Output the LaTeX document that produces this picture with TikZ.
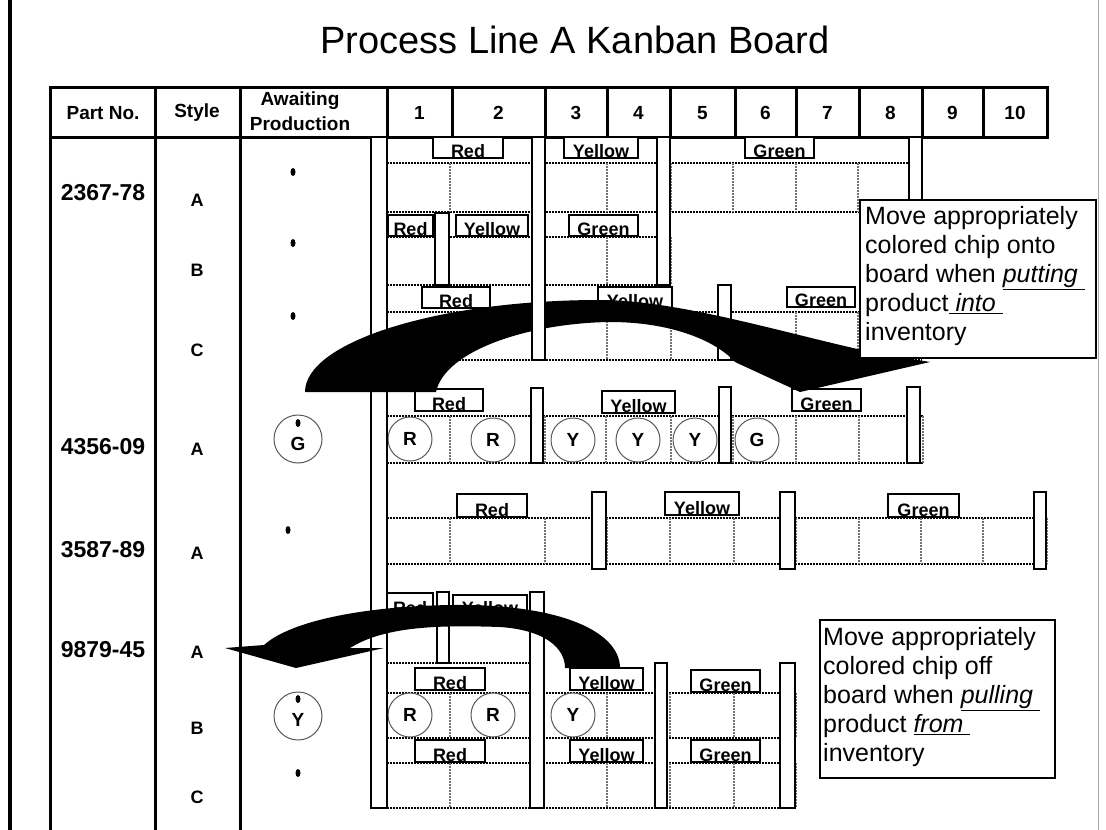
\documentclass[tikz,border=0pt]{standalone}
\usepackage{fontspec}
\setmainfont{Liberation Sans}
\tikzset{
  frameline/.style={line width=4pt},
  hline/.style={line width=3pt},
  hdr/.style={font=\fontsize{19}{25}\selectfont\bfseries, align=center, inner sep=0pt},
  partno/.style={font=\fontsize{23}{27}\selectfont\bfseries, inner sep=0pt},
  stylet/.style={font=\fontsize{18}{20}\selectfont\bfseries, inner sep=0pt},
  lbltext/.style={font=\fontsize{18}{20}\selectfont\bfseries, inner sep=0pt},
  lblbox/.style={draw=black, line width=1.5pt},
  barbox/.style={draw=black, fill=white, line width=1.5pt},
  hdot/.style={line width=2pt, dash pattern=on 1.6pt off 1.4pt},
  vdot/.style={line width=1.5pt, black!55, dash pattern=on 1.5pt off 1.5pt},
  chip/.style={circle, draw=black!65, line width=1pt, minimum size=44pt, inner sep=0pt, fill=white, font=\fontsize{19}{22}\selectfont\bfseries},
  calloutbox/.style={draw=black, fill=white, line width=1.5pt},
  callouttext/.style={font=\fontsize{25}{29}\selectfont, align=left, inner sep=0pt},
  bigarrow/.style={fill=black},
}
\newcommand\kblabel[6]{%
  \begin{scope}
    \clip (#2,#3) rectangle (#4,#5);
    \fill[white] (#2,#3) rectangle (#4,#5);
    \node[lbltext, anchor=base] (#1) at ({(#2+#4)/2},{#5-0.5}) {#6};
  \end{scope}
  \draw[lblbox] (#2,#3) rectangle (#4,#5);}
\begin{document}
\begin{tikzpicture}[x=1pt,y=-1pt]
\useasboundingbox (0,0) rectangle (1106,830);
\fill[white] (0,0) rectangle (1106,830);

% frame
\draw[frameline] (10,0) -- (10,830);
\draw[black!35, line width=1pt] (1098,0) -- (1098,830);

% title
\node[font=\fontsize{38}{44}\selectfont, inner sep=0pt] (title) at (575,40) {Process Line A Kanban Board};

% header
\draw[hline] (50,87) rectangle (1047,137);
\foreach \xx in {155,240,387,452,545,607,670,735,796,859,922,983}
  \draw[hline] (\xx,87) -- (\xx,137);
\node[hdr] (hpart) at (103,113) {Part No.};
\node[hdr] (hstyle) at (197,113) {Style};
\node[hdr] (hawait) at (300,111) {Awaiting\\Production};
\foreach \xx/\nn in {419.5/1,498.5/2,576/3,638.5/4,702.5/5,765.5/6,827.5/7,890.5/8,952.5/9,1015/10}
  \node[hdr] (h\nn) at (\xx,113) {\nn};

% body column lines
\foreach \xx in {50,155,240}
  \draw[hline] (\xx,137) -- (\xx,830);

% part numbers and styles
\node[partno] (p1) at (103,193) {2367-78};
\node[partno] (p2) at (103,447) {4356-09};
\node[partno] (p3) at (103,550) {3587-89};
\node[partno] (p4) at (103,650) {9879-45};
\node[stylet] (s1) at (197,200) {A};
\node[stylet] (s2) at (197,270) {B};
\node[stylet] (s3) at (197,350) {C};
\node[stylet] (s4) at (197,449) {A};
\node[stylet] (s5) at (197,553) {A};
\node[stylet] (s6) at (197,652) {A};
\node[stylet] (s7) at (197,728) {B};
\node[stylet] (s8) at (197,797) {C};

% awaiting production
\fill (293,172) ellipse (2.5 and 4);
\fill (293,243) ellipse (2.5 and 4);
\fill (293,316) ellipse (2.5 and 4);
\fill (288,530) ellipse (2.5 and 4);
\fill (298,773) ellipse (2.5 and 4);
\node[chip, minimum size=48pt] (wG) at (298,439) {};
\node[font=\fontsize{19}{22}\selectfont\bfseries, inner sep=0pt] (wGt) at (298,444) {G};
\fill (298,423) ellipse (2.5 and 4);
\node[chip, minimum size=48pt] (wY) at (298,716) {};
\node[font=\fontsize{19}{22}\selectfont\bfseries, inner sep=0pt] (wYt) at (298,720) {Y};
\fill (298,699) ellipse (2.5 and 4);

% ---------- row labels ----------
\kblabel{aR}{433}{137}{503}{158}{Red}
\kblabel{aY}{564}{137}{638}{158}{Yellow}
\kblabel{aG}{745}{137}{814}{158}{Green}
\kblabel{bR}{388}{215}{433}{236}{Red}
\kblabel{bY}{456}{215}{528}{236}{Yellow}
\kblabel{bG}{569}{215}{638}{236}{Green}
\kblabel{cR}{422}{287}{490}{308}{Red}
\kblabel{cY}{598}{287}{672}{308}{Yellow}
\kblabel{cG}{787}{287}{855}{307}{Green}
\kblabel{dR}{415}{389}{483}{411}{Red}
\kblabel{dY}{602}{391}{675}{413}{Yellow}
\kblabel{dG}{792}{389}{861}{411}{Green}
\kblabel{eR}{457}{494}{527}{517}{Red}
\kblabel{eY}{665}{492}{739}{515}{Yellow}
\kblabel{eG}{888}{494}{959}{517}{Green}
\kblabel{fR}{387}{593}{433}{615}{Red}
\kblabel{fY}{453}{595}{527}{615}{Yellow}
\kblabel{gR}{415}{668}{485}{690}{Red}
\kblabel{gY}{570}{668}{643}{690}{Yellow}
\kblabel{gG}{691}{670}{760}{692}{Green}
\kblabel{hR}{415}{740}{485}{762}{Red}
\kblabel{hY}{570}{740}{643}{762}{Yellow}
\kblabel{hG}{691}{740}{760}{762}{Green}

% ---------- dotted cells ----------
% 2367-78 A
\draw[hdot] (387,163) -- (909,163);
\draw[hdot] (387,212) -- (909,212);
\foreach \xx in {387,450,607,671,733,796,858,922}
  \draw[vdot] (\xx,163) -- (\xx,212);
% 2367-78 B
\draw[hdot] (387,237) -- (657,237);
\draw[hdot] (387,285) -- (657,285);
\foreach \xx in {387,607,671}
  \draw[vdot] (\xx,237) -- (\xx,285);
% 2367-78 C
\draw[hdot] (387,312) -- (909,312);
\draw[hdot] (387,360) -- (922,360);
\foreach \xx in {387,450,607,671,796,858}
  \draw[vdot] (\xx,312) -- (\xx,360);
% 4356-09 A
\draw[hdot] (387,416) -- (923,416);
\draw[hdot] (387,463) -- (923,463);
\foreach \xx in {387,450,545,606,671,733,796,859,923}
  \draw[vdot] (\xx,416) -- (\xx,463);
% 3587-89 A
\draw[hdot] (387,518) -- (1047,518);
\draw[hdot] (387,564) -- (1047,564);
\foreach \xx in {387,450,545,607,670,734,796,859,921,983,1047}
  \draw[vdot] (\xx,518) -- (\xx,564);
% 9879-45 A
\draw[hdot] (387,617) -- (531,617);
\draw[hdot] (387,663) -- (531,663);
\draw[vdot] (387,617) -- (387,663);
% 9879-45 B
\draw[hdot] (387,693) -- (796,693);
\draw[hdot] (387,738) -- (796,738);
\foreach \xx in {387,450,607,670,734,796}
  \draw[vdot] (\xx,693) -- (\xx,738);
% 9879-45 C
\draw[hdot] (387,763) -- (796,763);
\draw[hdot] (387,808) -- (796,808);
\foreach \xx in {387,450,607,670,734,796}
  \draw[vdot] (\xx,763) -- (\xx,808);

% ---------- chips ----------
\node[chip] (c1) at (410,439) {R};
\node[chip] (c2) at (493,440) {R};
\node[chip] (c3) at (573,440) {Y};
\node[chip] (c4) at (638,440) {Y};
\node[chip] (c5) at (695,440) {Y};
\node[chip] (c6) at (757,440) {G};
\node[chip] (c7) at (410,715) {R};
\node[chip] (c8) at (493,715) {R};
\node[chip] (c9) at (573,715) {Y};

% ---------- bars ----------
\draw[barbox] (371,137) rectangle (387,808);
\draw[barbox] (657,137) rectangle (670,285);
\draw[barbox] (909,137) rectangle (922,358);
\draw[barbox] (435,213) rectangle (449,285);
\draw[barbox] (718,285) rectangle (731,360);
\draw[barbox] (531,388) rectangle (543,463);
\draw[barbox] (719,387) rectangle (731,463);
\draw[barbox] (907,387) rectangle (920,463);
\draw[barbox] (592,492) rectangle (606,569);
\draw[barbox] (780,492) rectangle (795,569);
\draw[barbox] (1034,492) rectangle (1046,569);
\draw[barbox] (437,592) rectangle (449,663);
\draw[barbox] (530,592) rectangle (544,808);
\draw[barbox] (655,663) rectangle (667,808);
\draw[barbox] (780,663) rectangle (795,808);

% ---------- arrow 1 (into inventory) ----------
\fill[bigarrow] (305,392) .. controls (305,342) and (438,300) .. (600,300)
  .. controls (680,300) and (790,335) .. (880,354)
  -- (930,362) -- (800,392) -- (735,362)
  .. controls (715,340) and (670,322) .. (610,322)
  .. controls (530,323) and (445,350) .. (436,392) -- cycle;
\draw[barbox] (532,137) rectangle (545,360);

% ---------- arrow 2 (from inventory) ----------
\fill[bigarrow] (620,668) .. controls (620,635) and (570,607) .. (470,605)
  .. controls (385,604) and (295,617) .. (264,645)
  -- (225,648) -- (296,668) -- (384,648) -- (350,648)
  .. controls (385,626) and (440,625) .. (500,627)
  .. controls (545,630) and (565,648) .. (565,668) -- cycle;

% ---------- callouts ----------
\draw[calloutbox] (860,200) rectangle (1096,358);
\node[callouttext, anchor=north west] (note1) at (865,206)
  {Move appropriately\\colored chip onto\\board when \underline{\textit{putting}\ }\\product\underline{\ \textit{into}\ }\\inventory};
\draw[calloutbox] (820,620) rectangle (1055,778);
\node[callouttext, anchor=north west] (note2) at (823,627)
  {Move appropriately\\colored chip off\\board when \underline{\textit{pulling}\ }\\product \underline{\textit{from}\ }\\inventory};
\end{tikzpicture}
\end{document}
